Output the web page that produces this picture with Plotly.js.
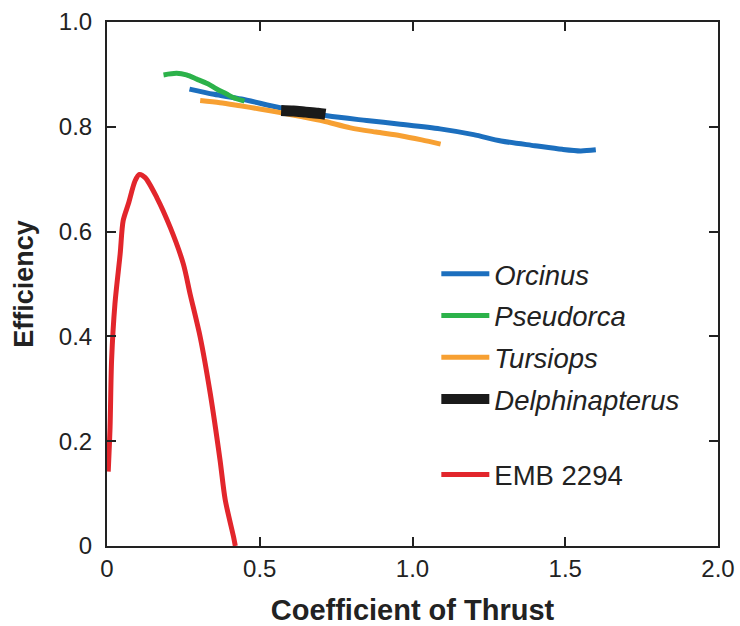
<!DOCTYPE html>
<html>
<head>
<meta charset="utf-8">
<script src="https://cdn.plot.ly/plotly-3.0.1.min.js"></script>
<style>html,body{margin:0;padding:0;background:#fff;}#chart{width:740px;height:626px;}</style>
</head>
<body>
<div id="chart"></div>
<script>
// Data
const orcinusX = [0.27, 0.35, 0.44, 0.57, 0.72, 0.85, 0.96, 1.09, 1.20, 1.29, 1.40, 1.49, 1.55, 1.60];
const orcinusY = [0.872, 0.862, 0.853, 0.836, 0.821, 0.812, 0.805, 0.796, 0.785, 0.773, 0.764, 0.757, 0.754, 0.756];

const pseudorcaX = [0.185, 0.228, 0.26, 0.294, 0.33, 0.359, 0.39, 0.413, 0.45];
const pseudorcaY = [0.899, 0.902, 0.899, 0.891, 0.882, 0.872, 0.863, 0.856, 0.849];

const tursiopsX = [0.305, 0.37, 0.436, 0.50, 0.567, 0.64, 0.708, 0.797, 0.88, 0.961, 1.03, 1.092];
const tursiopsY = [0.850, 0.846, 0.840, 0.834, 0.827, 0.819, 0.811, 0.798, 0.790, 0.783, 0.775, 0.767];

const delphX = [0.57, 0.61, 0.65, 0.69, 0.715];
const delphY = [0.831, 0.830, 0.828, 0.826, 0.824];

const embX = [0.004, 0.010, 0.015, 0.026, 0.043, 0.053, 0.070, 0.092, 0.106, 0.125, 0.163, 0.207, 0.250, 0.272, 0.305, 0.338, 0.370, 0.387, 0.414, 0.420];
const embY = [0.142, 0.227, 0.354, 0.462, 0.557, 0.621, 0.653, 0.697, 0.709, 0.703, 0.665, 0.608, 0.538, 0.481, 0.399, 0.291, 0.164, 0.088, 0.018, 0.0];

const xTickVals = [0, 0.5, 1.0, 1.5, 2.0];
const xTickText = ["0", "0.5", "1.0", "1.5", "2.0"];
const yTickVals = [0, 0.2, 0.4, 0.6, 0.8, 1.0];
const yTickText = ["0", "0.2", "0.4", "0.6", "0.8", "1.0"];

const seriesNames = ["<i>Orcinus</i>", "<i>Pseudorca</i>", "<i>Tursiops</i>", "<i>Delphinapterus</i>", "EMB 2294"];

const FONT = "Liberation Sans, Arial, Helvetica, sans-serif";

function line(x, y, name, color, width, legend, group) {
  return {
    x: x, y: y, name: name, type: "scatter", mode: "lines",
    line: {color: color, width: width, shape: "spline", smoothing: 0.8},
    legend: legend, legendgroup: group, hoverinfo: "skip"
  };
}

const traces = [
  line(orcinusX, orcinusY, seriesNames[0], "#1c6fbe", 5, "legend", "a"),
  line(pseudorcaX, pseudorcaY, seriesNames[1], "#2cb24a", 5, "legend", "b"),
  line(tursiopsX, tursiopsY, seriesNames[2], "#f7a032", 5, "legend", "c"),
  line(delphX, delphY, seriesNames[3], "#1a1a1a", 11, "legend", "d"),
  line(embX, embY, seriesNames[4], "#e2262c", 5, "legend2", "e")
];

const axisCommon = {
  showline: true, linecolor: "#222", linewidth: 2, mirror: "ticks",
  ticks: "inside", ticklen: 9, tickwidth: 2, tickcolor: "#222",
  showgrid: false, zeroline: false,
  tickfont: {family: FONT, size: 24, color: "#222"}
};

const layout = {
  width: 740, height: 626,
  margin: {l: 107, r: 22, t: 22, b: 80},
  paper_bgcolor: "#fff", plot_bgcolor: "#fff",
  font: {family: FONT, color: "#222"},
  showlegend: true,
  xaxis: Object.assign({}, axisCommon, {
    range: [0, 2], tickvals: xTickVals, ticktext: xTickText,
    title: {text: "<b>Coefficient of Thrust</b>", font: {family: FONT, size: 29, color: "#222"}, standoff: 20}
  }),
  yaxis: Object.assign({}, axisCommon, {
    range: [0, 1], tickvals: yTickVals, ticktext: yTickText, ticklabelstandoff: 8,
    title: {text: "<b>Efficiency</b>", font: {family: FONT, size: 27, color: "#222"}, standoff: 17}
  }),
  legend: {
    x: 0.539, y: 0.566, xanchor: "left", yanchor: "top",
    bgcolor: "rgba(0,0,0,0)", borderwidth: 0,
    font: {family: FONT, size: 27.5, color: "#222"},
    itemwidth: 48, traceorder: "grouped", tracegroupgap: 3
  },
  legend2: {
    x: 0.539, y: 0.183, xanchor: "left", yanchor: "top",
    bgcolor: "rgba(0,0,0,0)", borderwidth: 0,
    font: {family: FONT, size: 27.5, color: "#222"},
    itemwidth: 48
  }
};

Plotly.newPlot("chart", traces, layout, {displayModeBar: false, staticPlot: true});
</script>
</body>
</html>
